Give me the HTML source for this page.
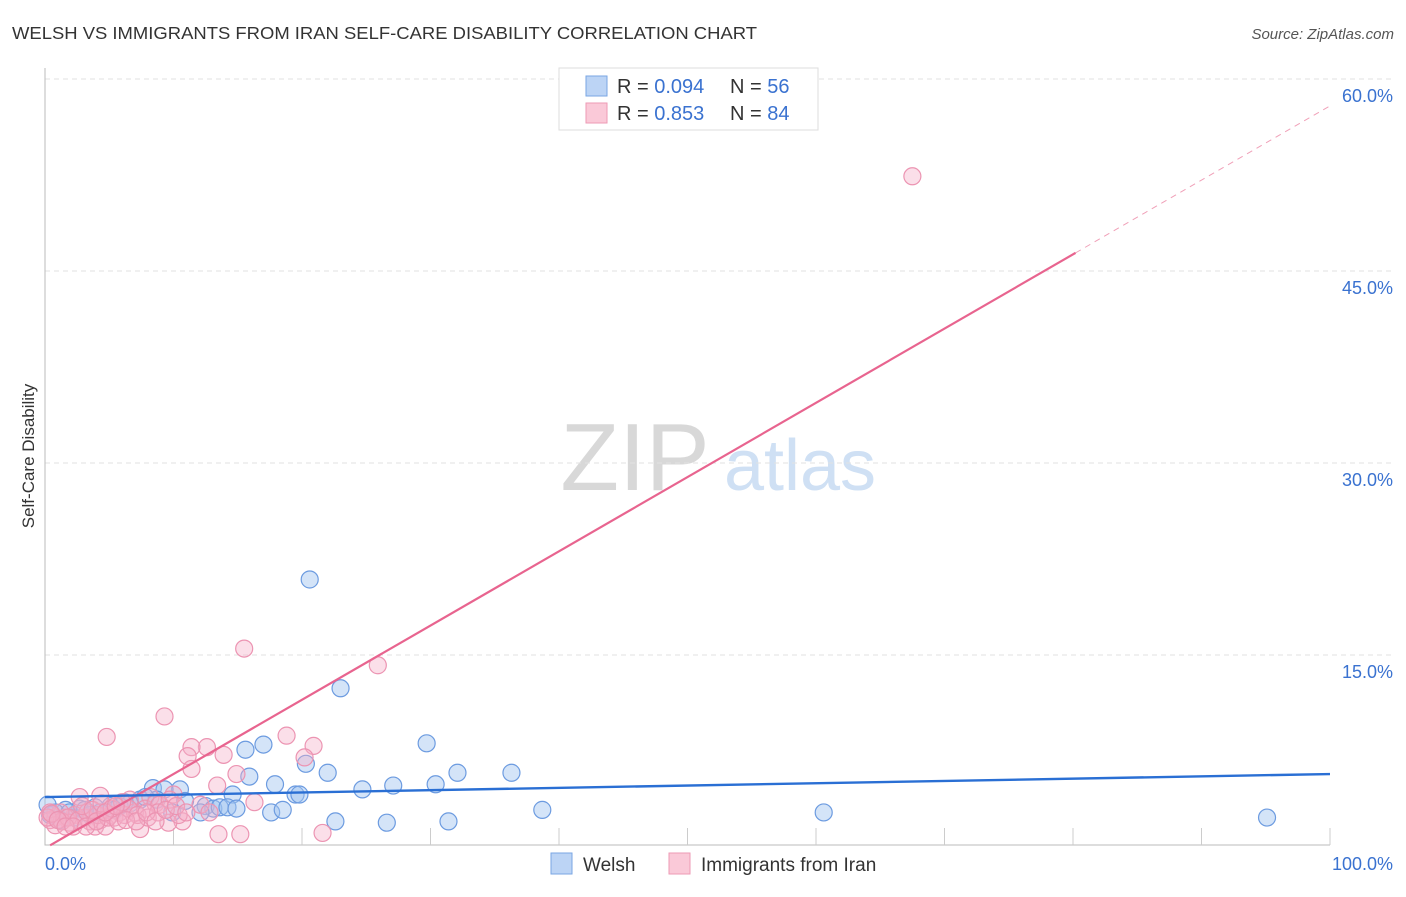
<!DOCTYPE html>
<html><head><meta charset="utf-8"><style>
body{margin:0;background:#fff;font-family:"Liberation Sans",sans-serif}
svg text{font-family:"Liberation Sans",sans-serif}
</style></head><body>
<svg id="c" width="1406" height="892">
<text x="12" y="39" font-size="17.5" fill="#333" textLength="745" lengthAdjust="spacingAndGlyphs">WELSH VS IMMIGRANTS FROM IRAN SELF-CARE DISABILITY CORRELATION CHART</text>
<text x="1394" y="39" font-size="15" fill="#555" font-style="italic" text-anchor="end">Source: ZipAtlas.com</text>
<text x="34" y="456" font-size="17" fill="#333" text-anchor="middle" transform="rotate(-90 34 456)">Self-Care Disability</text>
<g><text x="635" y="490" font-size="96" fill="#d8d8d8" font-family="Liberation Serif" text-anchor="middle">ZIP</text><text x="800" y="490" font-size="72" fill="#cfe0f4" text-anchor="middle">atlas</text></g>
<g id="grid"></g><g id="marks"></g>
<g>
<rect x="559" y="68" width="259" height="62" fill="#fff" stroke="#ddd"/>
<rect x="586" y="76" width="21" height="20" fill="#bcd4f5" stroke="#7aa6e3"/>
<rect x="586" y="103" width="21" height="20" fill="#fac9d8" stroke="#ee9ab5"/>
<text x="617" y="93" font-size="20" fill="#333">R = <tspan fill="#3a72d0">0.094</tspan>  <tspan x="730">N = </tspan><tspan fill="#3a72d0">56</tspan></text>
<text x="617" y="120" font-size="20" fill="#333">R = <tspan fill="#3a72d0"> 0.853</tspan>  <tspan x="730">N = </tspan><tspan fill="#3a72d0">84</tspan></text>
</g>
<g>
<rect x="551" y="853" width="21" height="21" fill="#bcd4f5" stroke="#7aa6e3"/>
<text x="583" y="871" font-size="19" fill="#333">Welsh</text>
<rect x="669" y="853" width="21" height="21" fill="#fac9d8" stroke="#ee9ab5"/>
<text x="701" y="871" font-size="19" fill="#333">Immigrants from Iran</text>
</g>
</svg>
<script>
const yTicks=[15,30,45,60];
const yTickLabels=["15.0%","30.0%","45.0%","60.0%"];
const xTickLabels=["0.0%","100.0%"];
const welshX=[20.6,23.0,29.7,17.0,15.6,20.3,22.0,32.1,36.3,15.9,17.9,30.4,27.1,24.7,19.5,19.8,14.6,8.4,10.5,9.3,10.9,12.5,13.1,13.6,14.2,14.9,12.1,17.6,18.5,22.6,26.6,31.4,38.7,60.6,95.1,9.9,8.7,7.4,6.6,5.8,5.1,3.9,2.7,1.6,0.8,0.4,0.2,1.2,2.3,3.5,4.3,7.8,6.2,5.4,1.9,3.1];
const welshY=[20.9,12.4,8.1,8.0,7.6,6.5,5.8,5.8,5.8,5.5,4.9,4.9,4.8,4.5,4.1,4.1,4.1,4.6,4.5,4.5,3.6,3.2,3.0,3.1,3.1,3.0,2.7,2.7,2.9,2.0,1.9,2.0,2.9,2.7,2.3,2.7,3.7,3.7,3.4,3.2,3.2,3.1,3.0,2.9,2.7,2.5,3.3,2.1,2.3,2.5,2.7,3.9,3.5,2.9,2.7,2.9];
const iranX=[67.5,15.5,25.9,9.3,4.8,18.8,20.9,12.6,11.4,11.1,13.9,20.2,11.4,14.9,13.4,16.3,10.0,8.2,10.7,9.6,7.4,13.5,15.2,21.6,2.7,4.3,6.6,5.8,5.1,4.3,3.5,3.1,2.3,1.6,0.8,0.4,1.2,1.9,3.9,4.7,5.4,6.2,7.0,7.8,8.6,8.9,9.7,10.4,12.1,12.8,0.4,0.8,1.3,1.8,2.6,3.3,4.1,4.9,5.7,6.5,7.2,8.0,8.8,2.9,3.7,4.4,5.2,6.0,0.2,0.5,1.0,1.6,2.2,3.2,4.0,4.7,5.5,6.3,7.1,7.9,8.6,9.4,10.2,11.0];
const iranY=[52.4,15.5,14.2,10.2,8.6,8.7,7.9,7.8,7.8,7.1,7.2,7.0,6.1,5.7,4.8,3.5,4.1,3.9,2.0,1.9,1.4,1.0,1.0,1.1,3.9,4.0,3.7,2.7,2.5,2.1,2.0,2.3,2.5,2.3,2.3,2.1,2.7,1.9,1.6,1.6,2.3,2.5,2.7,3.0,3.4,3.3,3.7,2.5,3.3,2.7,2.7,1.7,2.0,2.3,2.1,2.7,2.5,2.3,2.0,3.0,2.5,2.3,2.7,3.2,2.9,3.4,3.0,3.5,2.3,2.6,2.1,1.6,1.6,1.6,2.0,2.7,3.2,2.1,2.0,2.7,2.0,2.9,3.2,2.7];
const welshTrend=[3.9,5.7];
const iranTrend=[-0.1,57.9];
const iranSolidEnd=80.2;
const sx=v=>45+v*12.85, sy=v=>847-v*192/15;
const NS="http://www.w3.org/2000/svg";
function mk(p,t,a){const e=document.createElementNS(NS,t);for(const k in a)e.setAttribute(k,a[k]);p.appendChild(e);return e;}
const g=document.getElementById('grid'), m=document.getElementById('marks');
yTicks.forEach((t,i)=>{
 const l=mk(g,'line',{x1:45,x2:1392,y1:sy(t),y2:sy(t),stroke:'#e2e2e2','stroke-dasharray':'5,4'});
 
 
 const tx=mk(g,'text',{x:1393,y:sy(t)+23,'font-size':18,fill:'#3a72d0','text-anchor':'end'});
 tx.textContent=yTickLabels[i];
 
 
});
const ax=mk(g,'path',{d:'M45,68 V845 H1330',stroke:'#bbb',fill:'none'});


for(let k=1;k<=10;k++){const t=mk(g,'line',{x1:sx(k*10),x2:sx(k*10),y1:828,y2:845,stroke:'#ccc'});
 
 }
[[0,'start',45],[100,'end',1393]].forEach((d,i)=>{const t=mk(g,'text',{x:d[2],y:870,'font-size':18,fill:'#3a72d0','text-anchor':d[1]});t.textContent=xTickLabels[i];
 
 });
welshX.forEach((x,i)=>{const c=mk(m,'circle',{cx:sx(x),cy:sy(welshY[i]),r:8.5,fill:'rgba(160,196,240,0.45)',stroke:'#6c9be0','stroke-width':1.2});
 
 });
iranX.forEach((x,i)=>{const c=mk(m,'circle',{cx:sx(x),cy:sy(iranY[i]),r:8.5,fill:'rgba(246,176,200,0.4)',stroke:'#ec94b2','stroke-width':1.2});
 
 });
const iy=x=>iranTrend[0]+(iranTrend[1]-iranTrend[0])*x/100;
const l1=mk(m,'line',{x1:sx(0.4),y1:sy(iy(0.4)),x2:sx(iranSolidEnd),y2:sy(iy(iranSolidEnd)),stroke:'#e8648f','stroke-width':2.2});


const l2=mk(m,'line',{x1:sx(iranSolidEnd),y1:sy(iy(iranSolidEnd)),x2:sx(100),y2:sy(iy(100)),stroke:'#f0a0b8','stroke-width':1,'stroke-dasharray':'6,5'});


const l3=mk(m,'line',{x1:sx(0),y1:sy(welshTrend[0]),x2:sx(100),y2:sy(welshTrend[1]),stroke:'#2a6fd4','stroke-width':2.4});


</script>
</body></html>
